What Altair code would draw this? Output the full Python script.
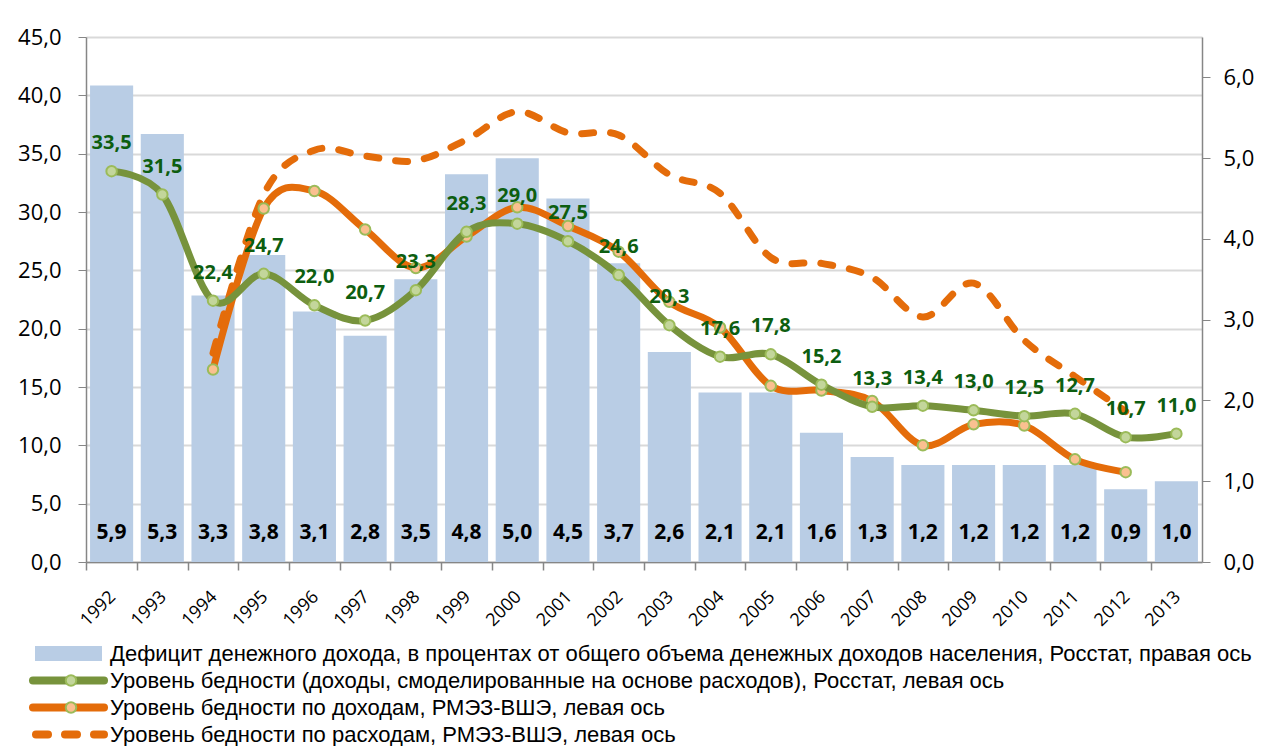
import altair as alt
import pandas as pd

# ---------------- data ----------------
years = [str(y) for y in range(1992, 2014)]
deficit = [5.9, 5.3, 3.3, 3.8, 3.1, 2.8, 3.5, 4.8, 5.0, 4.5, 3.7, 2.6, 2.1, 2.1,
           1.6, 1.3, 1.2, 1.2, 1.2, 1.2, 0.9, 1.0]
rosstat = [33.5, 31.5, 22.4, 24.7, 22.0, 20.7, 23.3, 28.3, 29.0, 27.5, 24.6, 20.3,
           17.6, 17.8, 15.2, 13.3, 13.4, 13.0, 12.5, 12.7, 10.7, 11.0]
rlms_years = [str(y) for y in range(1994, 2013)]
rlms_income = [16.5, 30.3, 31.8, 28.5, 25.2, 27.9, 30.4, 28.8, 26.6, 22.3, 20.1,
               15.1, 14.7, 13.8, 10.0, 11.8, 11.7, 8.8, 7.7]
rlms_exp = [17.9, 31.5, 35.3, 34.8, 34.4, 36.2, 38.6, 36.8, 36.6, 33.2, 31.6,
            26.1, 25.6, 24.4, 21.0, 23.9, 19.0, 15.9, 12.9]
left_ticks = [0, 5, 10, 15, 20, 25, 30, 35, 40, 45]
right_ticks = [0, 1, 2, 3, 4, 5, 6]
legend_labels = [
    "Дефицит денежного дохода, в процентах от общего объема денежных доходов населения, Росстат, правая ось",
    "Уровень бедности (доходы, смоделированные на основе расходов), Росстат, левая ось",
    "Уровень бедности по доходам, РМЭЗ-ВШЭ, левая ось",
    "Уровень бедности по расходам, РМЭЗ-ВШЭ, левая ось",
]

FONT = "Open Sans"
BAR_C = "#b9cde5"
GREEN = "#77933c"
ORANGE = "#e46c0a"
LBL_GREEN = "#0d5e10"
GRID = "#d9d9d9"
AXIS_C = "#868686"

W, H = 1116, 525
P_IN, P_OUT = 0.15, 0.08
HALF_STEP = W / (len(years) - P_IN + 2 * P_OUT) / 2

df_bar = pd.DataFrame({"year": years, "deficit": deficit})
df_ros = pd.DataFrame({"year": years, "value": rosstat})
df_inc = pd.DataFrame({"year": rlms_years, "value": rlms_income})
df_exp = pd.DataFrame({"year": rlms_years, "value": rlms_exp})

comma_expr = "replace(format(datum.value, '.1f'), '.', ',')"

x_enc = alt.X(
    "year:N", sort=years,
    scale=alt.Scale(domain=years, paddingInner=P_IN, paddingOuter=P_OUT),
    axis=alt.Axis(title=None, labelAngle=-45, labelAlign="right", labelBaseline="middle",
                  labelFontSize=18, labelFont=FONT, labelColor="black", labelPadding=24,
                  tickOffset=-HALF_STEP, labelOffset=HALF_STEP + 1,
                  ticks=True, tickSize=8, tickColor=AXIS_C, tickWidth=1.5,
                  domainColor=AXIS_C, domainWidth=1.5),
)

# ---- bars (right axis) ----
y_bar = alt.Y(
    "deficit:Q",
    scale=alt.Scale(domain=[0, 6.5], nice=False),
    axis=alt.Axis(orient="right", title=None, values=right_ticks, labelExpr=comma_expr,
                  labelFontSize=22, labelFont=FONT, labelColor="black", grid=False,
                  tickSize=8, tickColor=AXIS_C, domainColor=AXIS_C, domainWidth=1.5,
                  labelPadding=13),
)
bars = alt.Chart(df_bar).mark_bar(color=BAR_C).encode(x=x_enc, y=y_bar)
bar_text = alt.Chart(df_bar).transform_calculate(
    lbl="replace(format(datum.deficit, '.1f'), '.', ',')"
).mark_text(font=FONT, fontSize=21, fontWeight="bold", color="black", dy=-29,
            baseline="middle").encode(x=x_enc, y=alt.Y(datum=0), text="lbl:N")
bar_layer = alt.layer(bars, bar_text)

# ---- lines (left axis) ----
y_line = alt.Y(
    "value:Q",
    scale=alt.Scale(domain=[0, 45], nice=False),
    axis=alt.Axis(orient="left", title=None, values=left_ticks, labelExpr=comma_expr,
                  labelFontSize=22, labelFont=FONT, labelColor="black", grid=True,
                  gridColor=GRID, gridWidth=2, tickSize=8, tickColor=AXIS_C,
                  domainColor=AXIS_C, domainWidth=1.5, labelPadding=17,
                  minExtent=70, maxExtent=70),
)
exp_line = alt.Chart(df_exp).mark_line(
    color=ORANGE, strokeWidth=7, strokeDash=[12, 17], strokeCap="round",
    interpolate="cardinal").encode(x=x_enc, y=y_line)
inc_line = alt.Chart(df_inc).mark_line(
    color=ORANGE, strokeWidth=7, interpolate="cardinal").encode(x=x_enc, y=y_line)
inc_pts = alt.Chart(df_inc).mark_point(
    filled=True, fill="#fac090", stroke="#9bbb59", strokeWidth=2, size=110,
    opacity=1, shape="circle").encode(x=x_enc, y=y_line)
ros_line = alt.Chart(df_ros).mark_line(
    color=GREEN, strokeWidth=7, interpolate="cardinal").encode(x=x_enc, y=y_line)
ros_pts = alt.Chart(df_ros).mark_point(
    filled=True, fill="#c3d69b", stroke="#9bbb59", strokeWidth=2, size=110,
    opacity=1, shape="circle").encode(x=x_enc, y=y_line)
ros_text = alt.Chart(df_ros).transform_calculate(
    lbl="replace(format(datum.value, '.1f'), '.', ',')"
).mark_text(font=FONT, fontSize=20, fontWeight="bold", color=LBL_GREEN, dy=-28,
            baseline="middle").encode(x=x_enc, y=y_line, text="lbl:N")
line_layer = alt.layer(exp_line, inc_line, inc_pts, ros_line, ros_pts, ros_text)

top = alt.layer(bar_layer, line_layer).resolve_scale(y="independent").properties(
    width=W, height=H)

# ---- legend (drawn as its own small panel, aligned to the plot origin) ----
df_leg = pd.DataFrame({"label": legend_labels, "kind": ["bar", "green", "inc", "exp"]})
ly = alt.Y("label:N", sort=legend_labels, axis=None,
           scale=alt.Scale(domain=legend_labels, paddingInner=0, paddingOuter=0))
SX0, SX1, SXC, TX = -51, 16, -15, 24
leg_bar = alt.Chart(df_leg).transform_filter("datum.kind == 'bar'").mark_rule(
    color=BAR_C, strokeWidth=15, strokeCap="butt").encode(
    y=ly, x=alt.value(SX0), x2=alt.value(SX1))
leg_green = alt.Chart(df_leg).transform_filter("datum.kind == 'green'").mark_rule(
    color=GREEN, strokeWidth=8, strokeCap="round").encode(
    y=ly, x=alt.value(SX0 - 2), x2=alt.value(SX1 + 2))
leg_gpt = alt.Chart(df_leg).transform_filter("datum.kind == 'green'").mark_point(
    filled=True, fill="#c3d69b", stroke="#9bbb59", strokeWidth=2, size=110,
    opacity=1, shape="circle").encode(y=ly, x=alt.value(SXC))
leg_inc = alt.Chart(df_leg).transform_filter("datum.kind == 'inc'").mark_rule(
    color=ORANGE, strokeWidth=8, strokeCap="round").encode(
    y=ly, x=alt.value(SX0 - 2), x2=alt.value(SX1 + 2))
leg_ipt = alt.Chart(df_leg).transform_filter("datum.kind == 'inc'").mark_point(
    filled=True, fill="#fac090", stroke="#9bbb59", strokeWidth=2, size=110,
    opacity=1, shape="circle").encode(y=ly, x=alt.value(SXC))
leg_exp = alt.Chart(df_leg).transform_filter("datum.kind == 'exp'").mark_rule(
    color=ORANGE, strokeWidth=8, strokeCap="round", strokeDash=[12, 17]).encode(
    y=ly, x=alt.value(SX0 + 1), x2=alt.value(SX1 + 2))
leg_text = alt.Chart(df_leg).mark_text(
    font="Liberation Sans", fontSize=22, align="left", baseline="middle",
    color="black").encode(y=ly, x=alt.value(TX), text="label:N")
legend = alt.layer(leg_bar, leg_green, leg_gpt, leg_inc, leg_ipt, leg_exp,
                   leg_text).properties(width=1100, height=108)

chart = alt.vconcat(top, legend, spacing=10).properties(
    padding={"left": 8, "top": 18, "right": 0, "bottom": 0},
    background="white",
).configure_view(stroke=None)

chart.save("out.html", embed_options={"renderer": "svg", "actions": False})
